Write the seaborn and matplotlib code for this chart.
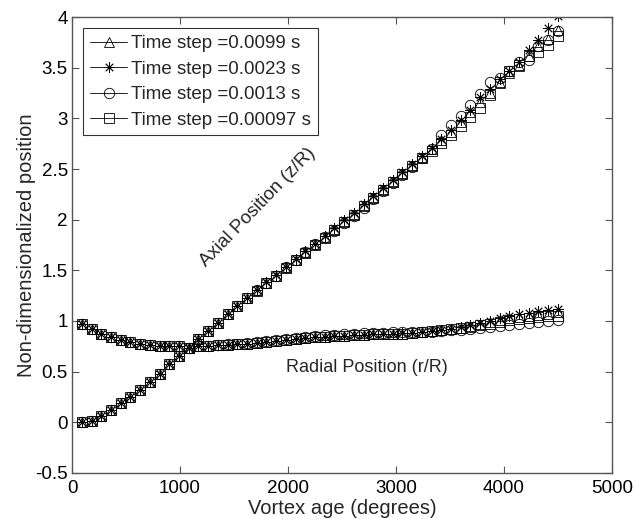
"""
Vortex trajectory: axial (z/R) and radial (r/R) position vs vortex age
for four time steps, MATLAB-style black open markers.
"""
import matplotlib
matplotlib.use("Agg")
import matplotlib.pyplot as plt
from matplotlib.lines import Line2D
import numpy as np
import pandas as pd
import seaborn as sns

# vortex age grid (degrees), one sample every 90 deg
vortex_age = list(range(90, 4501, 90))

time_step_labels = [
    "Time step =0.0099 s",
    "Time step =0.0023 s",
    "Time step =0.0013 s",
    "Time step =0.00097 s",
]

axial_0099 = [0.00, 0.01, 0.06, 0.12, 0.19, 0.25, 0.32, 0.40, 0.48, 0.57,
              0.655, 0.73, 0.82, 0.90, 0.98, 1.07, 1.15, 1.23, 1.31, 1.37,
              1.44, 1.53, 1.60, 1.68, 1.76, 1.83, 1.91, 1.99, 2.06, 2.14,
              2.22, 2.30, 2.38, 2.46, 2.54, 2.62, 2.70, 2.79, 2.87, 2.96,
              3.06, 3.16, 3.25, 3.35, 3.45, 3.52, 3.62, 3.71, 3.78, 3.87]
axial_0023 = [0.00, 0.01, 0.06, 0.12, 0.19, 0.25, 0.32, 0.40, 0.48, 0.57,
              0.655, 0.73, 0.82, 0.90, 0.98, 1.07, 1.15, 1.23, 1.31, 1.38,
              1.45, 1.53, 1.61, 1.69, 1.76, 1.84, 1.92, 2.00, 2.07, 2.15,
              2.23, 2.31, 2.39, 2.47, 2.55, 2.63, 2.71, 2.80, 2.89, 2.98,
              3.08, 3.21, 3.29, 3.39, 3.47, 3.56, 3.68, 3.77, 3.89, 4.01]
axial_0013 = [0.00, 0.01, 0.06, 0.12, 0.19, 0.25, 0.32, 0.40, 0.48, 0.57,
              0.655, 0.73, 0.82, 0.90, 0.98, 1.07, 1.15, 1.23, 1.31, 1.37,
              1.44, 1.53, 1.60, 1.68, 1.76, 1.83, 1.89, 1.97, 2.04, 2.12,
              2.20, 2.28, 2.36, 2.44, 2.52, 2.61, 2.70, 2.84, 2.93, 3.02,
              3.13, 3.24, 3.36, 3.40, 3.47, 3.56, 3.58, 3.71, 3.77, 3.86]
axial_00097 = [0.00, 0.01, 0.06, 0.12, 0.19, 0.25, 0.32, 0.40, 0.48, 0.57,
               0.655, 0.73, 0.82, 0.90, 0.98, 1.07, 1.15, 1.23, 1.30, 1.37,
               1.44, 1.52, 1.60, 1.67, 1.75, 1.82, 1.90, 1.98, 2.05, 2.13,
               2.21, 2.29, 2.37, 2.45, 2.53, 2.61, 2.68, 2.76, 2.84, 2.92,
               3.01, 3.10, 3.23, 3.36, 3.47, 3.53, 3.62, 3.66, 3.72, 3.81]

radial_0099 = [0.97, 0.92, 0.87, 0.84, 0.81, 0.79, 0.77, 0.76, 0.75, 0.75,
               0.75, 0.73, 0.75, 0.75, 0.76, 0.765, 0.77, 0.77, 0.78, 0.79,
               0.80, 0.81, 0.82, 0.83, 0.84, 0.845, 0.85, 0.855, 0.86, 0.865,
               0.87, 0.87, 0.875, 0.875, 0.88, 0.89, 0.90, 0.91, 0.92, 0.93,
               0.95, 0.97, 0.99, 1.01, 1.03, 1.04, 1.05, 1.06, 1.07, 1.09]
radial_0023 = [0.97, 0.92, 0.87, 0.84, 0.81, 0.79, 0.77, 0.76, 0.75, 0.75,
               0.75, 0.73, 0.75, 0.75, 0.76, 0.765, 0.77, 0.775, 0.78, 0.79,
               0.80, 0.81, 0.82, 0.83, 0.84, 0.845, 0.85, 0.855, 0.86, 0.865,
               0.87, 0.87, 0.875, 0.88, 0.885, 0.89, 0.90, 0.91, 0.92, 0.94,
               0.96, 0.98, 1.00, 1.03, 1.05, 1.07, 1.08, 1.10, 1.11, 1.12]
radial_0013 = [0.97, 0.92, 0.87, 0.84, 0.81, 0.79, 0.77, 0.76, 0.75, 0.75,
               0.75, 0.73, 0.75, 0.75, 0.76, 0.77, 0.775, 0.78, 0.79, 0.80,
               0.815, 0.825, 0.835, 0.845, 0.855, 0.86, 0.865, 0.87, 0.875, 0.88,
               0.885, 0.885, 0.89, 0.89, 0.895, 0.89, 0.895, 0.90, 0.91, 0.91,
               0.92, 0.93, 0.94, 0.95, 0.96, 0.97, 0.98, 0.99, 1.00, 1.01]
radial_00097 = [0.97, 0.92, 0.87, 0.84, 0.81, 0.79, 0.77, 0.76, 0.75, 0.75,
                0.75, 0.73, 0.75, 0.75, 0.76, 0.765, 0.77, 0.77, 0.78, 0.79,
                0.80, 0.81, 0.82, 0.83, 0.84, 0.845, 0.85, 0.855, 0.86, 0.865,
                0.87, 0.87, 0.875, 0.875, 0.88, 0.89, 0.90, 0.91, 0.92, 0.93,
                0.94, 0.96, 0.97, 0.99, 1.01, 1.02, 1.03, 1.04, 1.05, 1.05]

axial_series = [axial_0099, axial_0023, axial_0013, axial_00097]
radial_series = [radial_0099, radial_0023, radial_0013, radial_00097]
markers = ["^", (8, 2, 0), "o", "s"]

sns.set_style("ticks")
plt.rcParams["font.family"] = ["Liberation Sans", "DejaVu Sans"]
plt.rcParams["axes.unicode_minus"] = False

fig = plt.figure(figsize=(6.44, 5.19), dpi=100)
ax = fig.add_axes([0.112, 0.089, 0.838, 0.878])

for label, axial, radial, m in zip(time_step_labels, axial_series, radial_series, markers):
    for vals in (axial, radial):
        df = pd.DataFrame({"age": vortex_age, "pos": vals})
        sns.lineplot(data=df, x="age", y="pos", ax=ax, estimator=None, sort=False,
                     linestyle="none", marker=m, markersize=7.5,
                     markerfacecolor="none", markeredgecolor="black",
                     markeredgewidth=0.6, color="black")

ax.set_xlim(0, 5000)
ax.set_ylim(-0.5, 4)
ax.set_xticks(np.arange(0, 5001, 1000))
ax.set_yticks(np.arange(-0.5, 4.01, 0.5))
ax.set_yticklabels(["-0.5", "0", "0.5", "1", "1.5", "2", "2.5", "3", "3.5", "4"])
ax.tick_params(direction="in", top=True, right=True, length=5, width=0.8,
               labelsize=13.5, colors="#555555", labelcolor="black")
ax.tick_params(axis="x", pad=5)
ax.tick_params(axis="y", pad=3)
for side in ax.spines.values():
    side.set_visible(True)
    side.set_color("#555555")
    side.set_linewidth(1.0)

ax.set_xlabel("Vortex age (degrees)", fontsize=14.5)
ax.set_ylabel("Non-dimensionalized position", fontsize=14.5)
ax.xaxis.label.set_va("center")
ax.yaxis.label.set_va("center")
ax.xaxis.set_label_coords(0.5, -0.078)
ax.yaxis.set_label_coords(-0.085, 0.5)

ax.text(1720, 2.12, "Axial Position (z/R)", rotation=46, fontsize=13.5,
        ha="center", va="center", rotation_mode="anchor")
ax.text(2730, 0.54, "Radial Position (r/R)", fontsize=13, ha="center", va="center")

handles = [Line2D([], [], color="black", linewidth=0.6, marker=m, markersize=7.5,
                  markerfacecolor="none", markeredgecolor="black", markeredgewidth=0.6)
           for m in markers]
leg = ax.legend(handles, time_step_labels, loc="upper left", fontsize=13.5,
                frameon=True, fancybox=False, edgecolor="black",
                handlelength=2.0, handletextpad=0.2, labelspacing=0.45,
                borderpad=0.35, borderaxespad=0.6)
leg.get_frame().set_linewidth(0.8)

fig.savefig("out.png", dpi=100)
plt.close(fig)
